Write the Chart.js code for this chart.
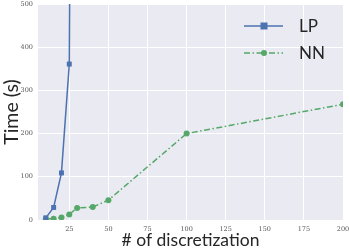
<!DOCTYPE html>
<html><head><meta charset="utf-8">
<script src="https://cdn.jsdelivr.net/npm/chart.js@4"></script>
<style>html,body{margin:0;padding:0;background:#fff}#c{display:block}</style>
</head><body>
<canvas id="c" width="349" height="251"></canvas>
<script>
const lpX = [10, 15, 20, 25, 30];
const lpY = [5, 29, 109, 361, 3500];
const nnX = [10, 15, 20, 25, 30, 40, 50, 100, 200];
const nnY = [3, 3, 6, 13, 28, 30, 46, 200, 268];
const xTicks = [25, 50, 75, 100, 125, 150, 175, 200];
const yTicks = [0, 100, 200, 300, 400, 500];
const seriesNames = ['LP', 'NN'];

const BLUE = '#4C72B0', GREEN = '#55A868';

const bgPlugin = {
  id: 'bg',
  beforeDraw(chart) {
    const {ctx, chartArea: a} = chart;
    ctx.save();
    ctx.fillStyle = '#EAEAF2';
    ctx.fillRect(a.left, a.top, a.right - a.left, a.bottom - a.top);
    ctx.restore();
  }
};

const legendPlugin = {
  id: 'customLegend',
  afterDraw(chart) {
    const ctx = chart.ctx;
    const x0 = 244, x1 = 283, xm = 264, tx = 299;
    const rows = [26, 53];
    ctx.save();
    chart.data.datasets.forEach((ds, i) => {
      const y = rows[i];
      ctx.strokeStyle = ds.borderColor;
      ctx.lineWidth = ds.borderWidth;
      ctx.setLineDash(ds.borderDash || []);
      ctx.beginPath(); ctx.moveTo(x0, y); ctx.lineTo(x1, y); ctx.stroke();
      ctx.setLineDash([]);
      ctx.fillStyle = ds.borderColor;
      if (ds.pointStyle === 'rect') {
        ctx.fillRect(xm - 3.5, y - 3.5, 7, 7);
      } else {
        ctx.beginPath(); ctx.arc(xm, y, 3, 0, Math.PI * 2); ctx.fill();
      }
      ctx.fillStyle = '#262626';
      ctx.font = '17px Lato';
      ctx.textBaseline = 'middle';
      ctx.textAlign = 'left';
      ctx.fillText(ds.label, tx, y + 1);
    });
    ctx.restore();
  }
};

new Chart(document.getElementById('c'), {
  type: 'line',
  data: {
    datasets: [
      {
        label: seriesNames[0],
        data: lpX.map((x, i) => ({x, y: lpY[i]})),
        borderColor: BLUE, backgroundColor: BLUE,
        borderWidth: 1.5, pointStyle: 'rect', pointRadius: 3.5,
        pointBorderWidth: 0, tension: 0
      },
      {
        label: seriesNames[1],
        data: nnX.map((x, i) => ({x, y: nnY[i]})),
        borderColor: GREEN, backgroundColor: GREEN,
        borderWidth: 1.5, borderDash: [6, 2.5, 1.5, 2.5], pointStyle: 'circle', pointRadius: 3,
        pointBorderWidth: 0, tension: 0
      }
    ]
  },
  options: {
    responsive: false,
    animation: false,
    layout: {padding: {top: 3, right: 6, left: 0, bottom: 0}},
    plugins: {legend: {display: false}, tooltip: {enabled: false}},
    scales: {
      x: {
        type: 'linear', min: 5, max: 200,
        afterBuildTicks(s) { s.ticks = xTicks.map(v => ({value: v})); },
        afterFit(s) { s.height = 31; s.paddingLeft = 0; s.paddingRight = 0; },
        grid: {color: '#ffffff', lineWidth: 1, drawTicks: false},
        border: {display: false},
        ticks: {color: '#555', font: {family: 'DejaVu Serif', size: 6.5}, padding: 5, maxRotation: 0},
        title: {display: true, text: '# of discretization', color: '#262626',
                font: {family: 'Lato', size: 17.5}, padding: {top: 0, bottom: 0}}
      },
      y: {
        type: 'linear', min: 0, max: 500,
        afterBuildTicks(s) { s.ticks = yTicks.map(v => ({value: v})); },
        afterFit(s) { s.width = 38; s.paddingTop = 0; s.paddingBottom = 0; },
        grid: {color: '#ffffff', lineWidth: 1, drawTicks: false},
        border: {display: false},
        ticks: {color: '#555', font: {family: 'DejaVu Serif', size: 6.5}, padding: 5},
        title: {display: true, text: 'Time (s)', color: '#262626',
                font: {family: 'Lato', size: 19.5}, padding: {top: 0, bottom: 1}}
      }
    }
  },
  plugins: [bgPlugin, legendPlugin]
});
</script>
</body></html>
